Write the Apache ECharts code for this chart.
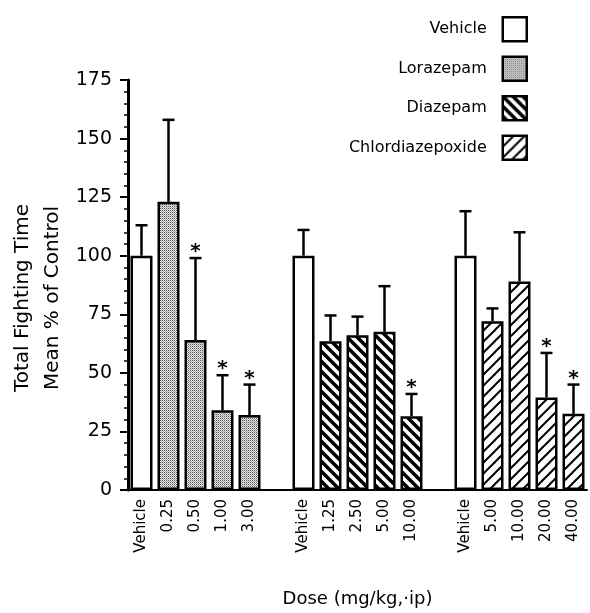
<!DOCTYPE html>
<html>
<head>
<meta charset="utf-8">
<script src="https://cdn.jsdelivr.net/npm/echarts@6/dist/echarts.min.js"></script>
<style>html,body{margin:0;padding:0;background:#fff}#c{width:590px;height:613px}</style>
</head>
<body>
<div id="c"></div>
<script>
// ---- data ----
const lorazepamDoses = ['0.25', '0.50', '1.00', '3.00'];
const diazepamDoses = ['1.25', '2.50', '5.00', '10.00'];
const cdpDoses = ['5.00', '10.00', '20.00', '40.00'];

const vehicleMean = [100, 100, 100];
const vehicleErr = [113, 111, 119];
const vehicleStar = [0, 0, 0];

const lorazepamMean = [123, 64, 34, 32];
const lorazepamErr = [158, 99, 49, 45];
const lorazepamStar = [0, 1, 1, 1];

const diazepamMean = [63.5, 66, 67.5, 31.5];
const diazepamErr = [74.5, 74, 87, 41];
const diazepamStar = [0, 0, 0, 1];

const cdpMean = [72, 89, 39.5, 32.5];
const cdpErr = [77.5, 110, 58.5, 45];
const cdpStar = [0, 0, 1, 1];

const yTicks = [0, 25, 50, 75, 100, 125, 150, 175];

// ---- build categories (with one empty slot between groups) ----
const categories = ['Vehicle', ...lorazepamDoses, '', 'Vehicle', ...diazepamDoses, '', 'Vehicle', ...cdpDoses];
const N = categories.length;
const g1 = 0, g2 = 6, g3 = 12;
function blank() { return new Array(N).fill('-'); }
const vehicleData = blank();
[g1, g2, g3].forEach((s, i) => vehicleData[s] = vehicleMean[i]);
function place(vals, start) { const a = blank(); vals.forEach((v, i) => a[start + 1 + i] = v); return a; }
const lorData = place(lorazepamMean, g1);
const diaData = place(diazepamMean, g2);
const cdpData = place(cdpMean, g3);

const errData = [];
[g1, g2, g3].forEach((s, i) => errData.push([s, vehicleMean[i], vehicleErr[i], vehicleStar[i]]));
lorazepamMean.forEach((m, i) => errData.push([g1 + 1 + i, m, lorazepamErr[i], lorazepamStar[i]]));
diazepamMean.forEach((m, i) => errData.push([g2 + 1 + i, m, diazepamErr[i], diazepamStar[i]]));
cdpMean.forEach((m, i) => errData.push([g3 + 1 + i, m, cdpErr[i], cdpStar[i]]));

// ---- fill patterns ----
function stripes(dir, P, lw) {
  const c = document.createElement('canvas'); c.width = P; c.height = P;
  const g = c.getContext('2d');
  g.fillStyle = '#fff'; g.fillRect(0, 0, P, P);
  g.strokeStyle = '#000'; g.lineWidth = lw; g.lineCap = 'square';
  for (let k = -1; k <= 1; k++) {
    g.beginPath();
    if (dir === 'back') { g.moveTo(k * P, 0); g.lineTo(k * P + P, P); }
    else { g.moveTo(k * P, P); g.lineTo(k * P + P, 0); }
    g.stroke();
  }
  return { image: c, repeat: 'repeat' };
}
function stipple() {
  const c = document.createElement('canvas'); c.width = 2; c.height = 2;
  const g = c.getContext('2d');
  g.fillStyle = '#e4e4e4'; g.fillRect(0, 0, 2, 2);
  g.fillStyle = '#5a5a5a'; g.fillRect(0, 0, 1, 1);
  g.fillStyle = '#a8a8a8'; g.fillRect(1, 1, 1, 1);
  return { image: c, repeat: 'repeat' };
}

const FONT = 'DejaVu Sans';
const barCommon = {
  type: 'bar', barWidth: 22, barGap: '-100%',
  emphasis: { disabled: true }, z: 2
};

const chart = echarts.init(document.getElementById('c'), null, { renderer: 'canvas' });
chart.setOption({
  animation: false,
  backgroundColor: '#fff',
  textStyle: { fontFamily: FONT, color: '#000' },
  grid: { left: 128, right: 3, top: 80, bottom: 119, containLabel: false },
  legend: {
    data: ['Vehicle', 'Lorazepam', 'Diazepam', 'Chlordiazepoxide'],
    orient: 'vertical', right: 57, top: 11, align: 'right',
    itemWidth: 24, itemHeight: 24, itemGap: 13,
    icon: 'rect',
    itemStyle: { borderColor: '#000', borderWidth: 2.5 },
    textStyle: { fontFamily: FONT, fontSize: 16, color: '#000', padding: [0, 11, 0, 0] },
    selectedMode: false
  },
  xAxis: {
    type: 'category', data: categories,
    name: 'Dose (mg/kg,·ip)', nameLocation: 'middle', nameGap: 100,
    nameTextStyle: { fontFamily: FONT, fontSize: 18, color: '#000' },
    axisLine: { lineStyle: { color: '#000', width: 2 } },
    axisTick: { interval: 0, length: 5, lineStyle: { color: '#000', width: 2 } },
    axisLabel: { interval: 0, rotate: 90, fontSize: 15, margin: 9, color: '#000', fontFamily: FONT }
  },
  yAxis: {
    type: 'value', min: yTicks[0], max: yTicks[yTicks.length - 1], interval: 25,
    splitLine: { show: false },
    axisLine: { show: true, lineStyle: { color: '#000', width: 3 } },
    axisTick: { show: true, length: 8, lineStyle: { color: '#000', width: 2 } },
    minorTick: { show: true, splitNumber: 5, length: 4, lineStyle: { color: '#000', width: 1.5 } },
    axisLabel: { fontSize: 19, margin: 16, color: '#000', fontFamily: FONT }
  },
  graphic: [{
    type: 'text', x: 38, y: 298, rotation: Math.PI / 2,
    style: {
      text: 'Total Fighting Time\nMean % of Control',
      font: '20px ' + FONT, fill: '#000', align: 'center', verticalAlign: 'middle', lineHeight: 30
    }
  }],
  series: [
    Object.assign({}, barCommon, { name: 'Vehicle', data: vehicleData, itemStyle: { color: '#fff', borderColor: '#000', borderWidth: 2.5 } }),
    Object.assign({}, barCommon, { name: 'Lorazepam', data: lorData, itemStyle: { color: stipple(), borderColor: '#000', borderWidth: 2.5 } }),
    Object.assign({}, barCommon, { name: 'Diazepam', data: diaData, itemStyle: { color: stripes('back', 10, 3.5), borderColor: '#000', borderWidth: 2.5 } }),
    Object.assign({}, barCommon, { name: 'Chlordiazepoxide', data: cdpData, itemStyle: { color: stripes('fwd', 11, 2), borderColor: '#000', borderWidth: 2.5 } }),
    {
      type: 'custom', name: 'err', z: 3, data: errData,
      encode: { x: 0, y: [1, 2] },
      renderItem: function (params, api) {
        const x = api.value(0), m = api.value(1), e = api.value(2), s = api.value(3);
        const p0 = api.coord([x, m]);
        const p1 = api.coord([x, e]);
        const ch = [
          { type: 'line', shape: { x1: p0[0], y1: p0[1], x2: p1[0], y2: p1[1] }, style: { stroke: '#000', lineWidth: 2.5 } },
          { type: 'line', shape: { x1: p1[0] - 6, y1: p1[1], x2: p1[0] + 6, y2: p1[1] }, style: { stroke: '#000', lineWidth: 2.5 } }
        ];
        if (s) ch.push({ type: 'text', style: { text: '*', x: p1[0], y: p1[1] - 6, align: 'center', verticalAlign: 'middle', font: 'bold 20px ' + FONT, fill: '#000' } });
        return { type: 'group', children: ch };
      }
    }
  ]
});
</script>
</body>
</html>
